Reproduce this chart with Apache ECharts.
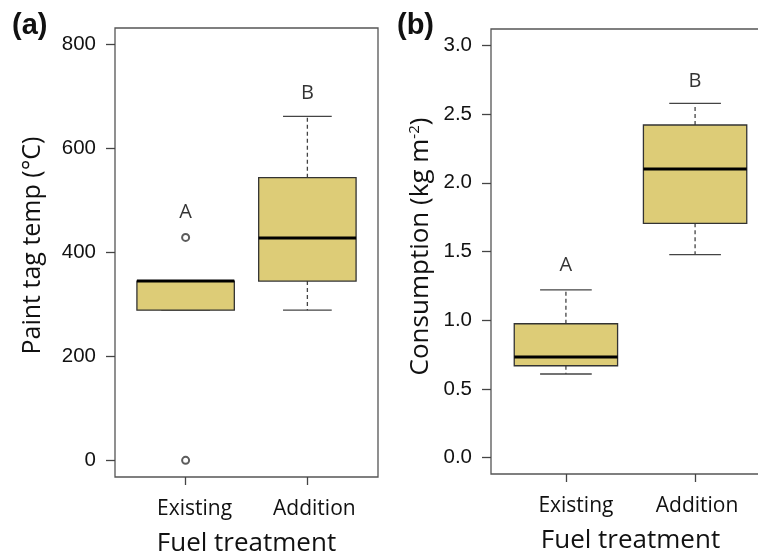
<!DOCTYPE html>
<html>
<head>
<meta charset="utf-8">
<script src="https://cdn.jsdelivr.net/npm/echarts@6/dist/echarts.min.js"></script>
<style>html,body{margin:0;padding:0;background:#fff;}#chart{width:758px;height:553px;}</style>
</head>
<body>
<div id="chart"></div>
<script>
// ---- data ----
const categories = ['Existing', 'Addition'];
const categoryPos = [1, 2];
// [lower whisker, Q1, median, Q3, upper whisker]
const tempStats = [
  [289, 289, 345, 345, 345],
  [289, 345, 428, 544, 662]
];
const tempOutliers = [[1, 429], [1, 0]];
const tempLetters = ['A', 'B'];
const tempLetterY = [477, 706];
const tempTicks = [0, 200, 400, 600, 800];

const consStats = [
  [0.608, 0.668, 0.732, 0.974, 1.220],
  [1.477, 1.705, 2.101, 2.421, 2.579]
];
const consLetters = ['A', 'B'];
const consLetterY = [1.40, 2.74];
const consTicks = [0, 0.5, 1, 1.5, 2, 2.5, 3];

// ---- styles ----
const FILL = '#DDCC77';
const LINE = '#444';
const TXT = 'Open Sans';
const NUM = 'Liberation Sans';
const INK = '#111';

function boxData(stats) {
  return stats.map((s, i) => [categoryPos[i]].concat(s));
}
function letterData(letters, ys) {
  return letters.map((l, i) => [categoryPos[i], ys[i], l]);
}

function renderBox(params, api) {
  const x = api.value(0);
  const lo = api.coord([x, api.value(1)]);
  const q1 = api.coord([x, api.value(2)]);
  const md = api.coord([x, api.value(3)]);
  const q3 = api.coord([x, api.value(4)]);
  const hi = api.coord([x, api.value(5)]);
  const bw = api.size([0.8, 0])[0];
  const cw = bw / 2;
  const cx = lo[0];
  const dash = { stroke: LINE, lineWidth: 1.3, lineDash: [4, 3] };
  const solid = { stroke: LINE, lineWidth: 1.3 };
  return {
    type: 'group',
    children: [
      { type: 'line', shape: { x1: cx, y1: q3[1], x2: cx, y2: hi[1] }, style: dash },
      { type: 'line', shape: { x1: cx, y1: q1[1], x2: cx, y2: lo[1] }, style: dash },
      { type: 'line', shape: { x1: cx - cw / 2, y1: hi[1], x2: cx + cw / 2, y2: hi[1] }, style: solid },
      { type: 'line', shape: { x1: cx - cw / 2, y1: lo[1], x2: cx + cw / 2, y2: lo[1] }, style: solid },
      { type: 'rect', shape: { x: cx - bw / 2, y: q3[1], width: bw, height: q1[1] - q3[1] },
        style: { fill: FILL, stroke: '#333', lineWidth: 1.3 } },
      { type: 'line', shape: { x1: cx - bw / 2, y1: md[1], x2: cx + bw / 2, y2: md[1] },
        style: { stroke: '#000', lineWidth: 3 } }
    ]
  };
}

function xAxisFor(gridIndex, pads) {
  const rich = {};
  pads.forEach((p, i) => { rich['c' + i] = { padding: [0, 0, 0, p] }; });
  return {
    type: 'value', gridIndex: gridIndex, min: 0.42, max: 2.58,
    splitLine: { show: false },
    axisLine: { show: false, onZero: false },
    axisTick: { show: true, length: 8, customValues: categoryPos, lineStyle: { color: LINE, width: 1.3 } },
    axisLabel: {
      customValues: categoryPos, margin: 22,
      fontFamily: TXT, fontSize: 21, color: INK,
      formatter: v => { const i = categoryPos.indexOf(v); return i < 0 ? '' : '{c' + i + '|' + categories[i] + '}'; },
      rich: rich
    },
    name: 'Fuel treatment', nameLocation: 'middle', nameGap: 54,
    nameTextStyle: { fontFamily: TXT, fontSize: 26, color: INK }
  };
}

function yAxisFor(gridIndex, min, max, ticks, fmt, name, gap, pad, rich) {
  return {
    type: 'value', gridIndex: gridIndex, min: min, max: max,
    splitLine: { show: false },
    axisLine: { show: false, onZero: false },
    axisTick: { show: true, length: 9, customValues: ticks, lineStyle: { color: LINE, width: 1.3 } },
    axisLabel: { customValues: ticks, margin: 19, fontFamily: NUM, fontSize: 20.5, color: INK, formatter: fmt },
    name: name, nameLocation: 'middle', nameRotate: 90, nameGap: gap,
    nameTextStyle: Object.assign({ fontFamily: TXT, fontSize: 25, color: INK, padding: [0, 0, 0, pad] }, rich ? { rich: rich } : {})
  };
}

const chart = echarts.init(document.getElementById('chart'), null, { renderer: 'canvas' });
chart.setOption({
  backgroundColor: '#fff',
  animation: false,
  title: [
    { text: '(a)', left: 12, top: 11, padding: 0, textStyle: { fontFamily: NUM, fontWeight: 'bold', fontSize: 29, color: '#111' } },
    { text: '(b)', left: 397, top: 11, padding: 0, textStyle: { fontFamily: NUM, fontWeight: 'bold', fontSize: 29, color: '#111' } }
  ],
  grid: [
    { left: 115, top: 28, width: 263, height: 449, show: true, borderColor: '#555', borderWidth: 1.3,
      backgroundColor: 'transparent', outerBoundsMode: 'none', containLabel: false },
    { left: 491, top: 29, width: 279, height: 445, show: true, borderColor: '#555', borderWidth: 1.3,
      backgroundColor: 'transparent', outerBoundsMode: 'none', containLabel: false }
  ],
  xAxis: [xAxisFor(0, [18, 14]), xAxisFor(1, [20, 4])],
  yAxis: [
    yAxisFor(0, -32, 832, tempTicks, v => String(v), 'Paint tag temp (°C)', 70, 14),
    yAxisFor(1, -0.12, 3.12, consTicks, v => v.toFixed(1),
      '{n|Consumption (kg m}{s|-2}{n|)}', 56, 10,
      { n: { fontFamily: TXT, fontSize: 26, color: INK }, s: { fontFamily: TXT, fontSize: 15, color: INK, padding: [0, 0, 13, 0] } })
  ],
  series: [
    { type: 'custom', xAxisIndex: 0, yAxisIndex: 0, renderItem: renderBox, data: boxData(tempStats), silent: true },
    { type: 'scatter', xAxisIndex: 0, yAxisIndex: 0, data: tempOutliers, symbol: 'emptyCircle', symbolSize: 7,
      itemStyle: { color: '#333', borderColor: '#333', borderWidth: 1.1 }, silent: true },
    { type: 'scatter', xAxisIndex: 0, yAxisIndex: 0, data: letterData(tempLetters, tempLetterY), symbolSize: 0,
      label: { show: true, position: 'inside', formatter: p => p.value[2], fontFamily: TXT, fontSize: 20, color: '#000' }, silent: true },
    { type: 'custom', xAxisIndex: 1, yAxisIndex: 1, renderItem: renderBox, data: boxData(consStats), silent: true },
    { type: 'scatter', xAxisIndex: 1, yAxisIndex: 1, data: letterData(consLetters, consLetterY), symbolSize: 0,
      label: { show: true, position: 'inside', formatter: p => p.value[2], fontFamily: TXT, fontSize: 20, color: '#000' }, silent: true }
  ]
});
</script>
</body>
</html>
